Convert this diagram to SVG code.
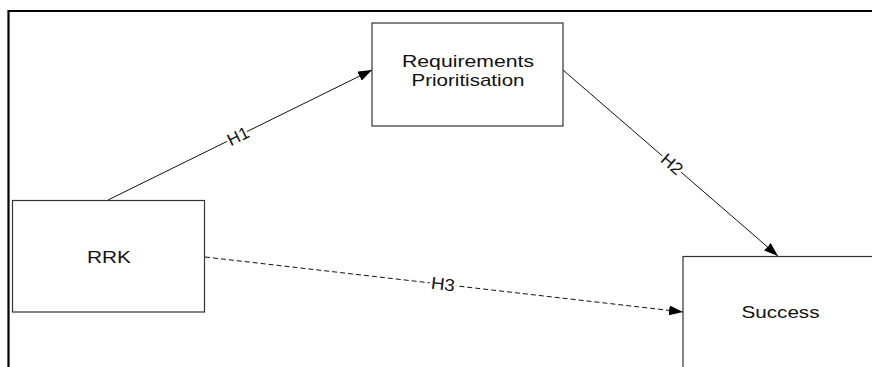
<svg xmlns="http://www.w3.org/2000/svg" width="872" height="367" viewBox="0 0 872 367">
<style>
.box{fill:#fff;stroke:#333;stroke-width:1.2}
.t{font-family:"Liberation Sans",Arial,sans-serif;font-size:17px;fill:#111;text-anchor:middle}
.c{stroke:#111;stroke-width:1;fill:none}
.lbl{font-family:"Liberation Sans",Arial,sans-serif;font-size:17px;fill:#111;text-anchor:middle;stroke:#fff;stroke-width:5;paint-order:stroke;stroke-linejoin:round}
</style>
<defs>
<marker id="ah" viewBox="0 0 14 10" refX="14" refY="5" markerWidth="14" markerHeight="10" markerUnits="userSpaceOnUse" orient="auto">
<path d="M0,0 L14,5 L0,10 Z" fill="#000"/>
</marker>
</defs>
<rect width="872" height="367" fill="#fff"/>
<path d="M8.5 367 V11 H872" fill="none" stroke="#000" stroke-width="2.2"/>
<g id="connectors">
<g id="e-h1">
<line class="c" x1="108" y1="200" x2="372" y2="70" marker-end="url(#ah)"/>
<text class="lbl" transform="translate(238,136) rotate(-26.2)" y="6" textLength="22" lengthAdjust="spacingAndGlyphs">H1</text>
</g>
<g id="e-h2">
<line class="c" x1="563" y1="70" x2="778" y2="256" marker-end="url(#ah)"/>
<text class="lbl" transform="translate(672,164) rotate(40.9)" y="6" textLength="23" lengthAdjust="spacingAndGlyphs">H2</text>
</g>
<g id="e-h3">
<line class="c" x1="205" y1="257" x2="683" y2="312" stroke-dasharray="5,3" marker-end="url(#ah)"/>
<text class="lbl" transform="translate(443,284) rotate(6.6)" y="6" textLength="24" lengthAdjust="spacingAndGlyphs">H3</text>
</g>
</g>
<g id="n-req">
<rect class="box" x="372" y="23" width="191" height="103"/>
<text class="t" x="468" y="67" textLength="132" lengthAdjust="spacingAndGlyphs">Requirements</text>
<text class="t" x="468" y="86" textLength="113" lengthAdjust="spacingAndGlyphs">Prioritisation</text>
</g>
<g id="n-rrk">
<rect class="box" x="12.5" y="200.5" width="192" height="111.5"/>
<text class="t" x="109" y="263" textLength="44" lengthAdjust="spacingAndGlyphs">RRK</text>
</g>
<g id="n-success">
<rect class="box" x="683" y="256.5" width="200" height="120"/>
<text class="t" x="780.5" y="318" textLength="78" lengthAdjust="spacingAndGlyphs">Success</text>
</g>
</svg>
